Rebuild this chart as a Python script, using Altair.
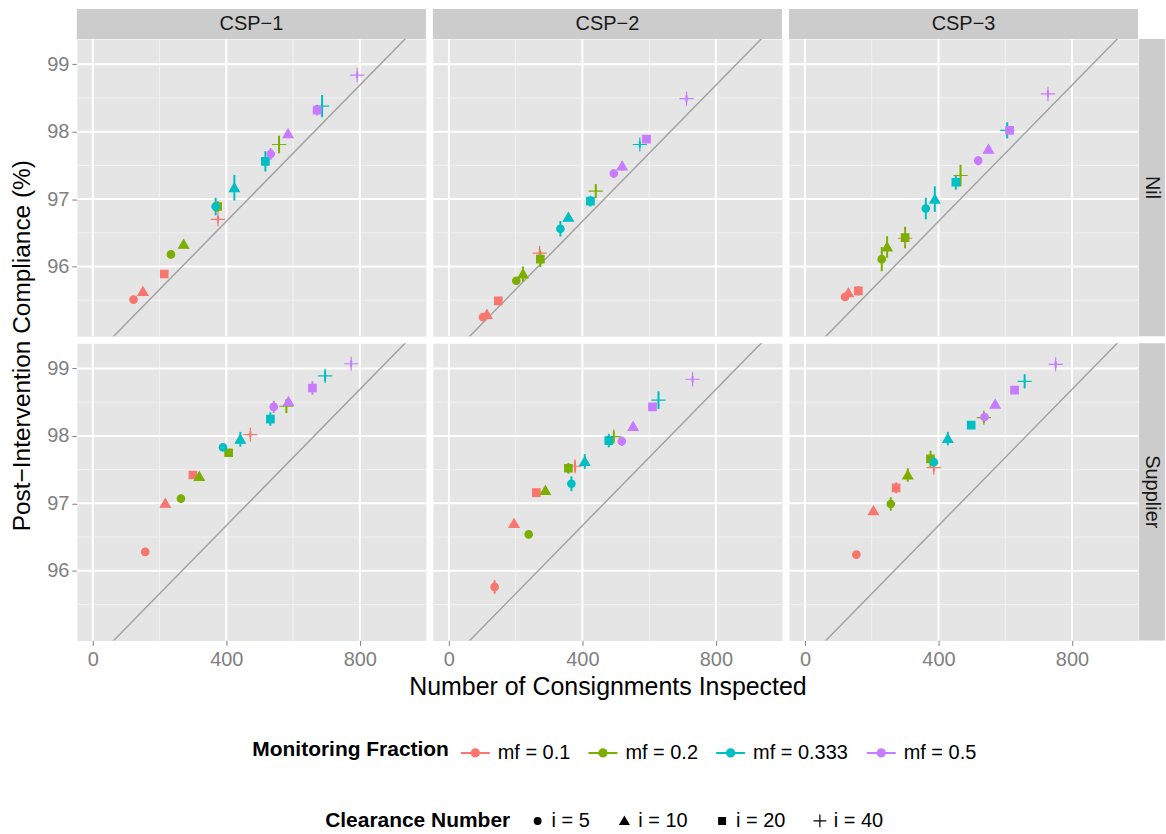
import altair as alt
import pandas as pd

CSP = ["CSP−1", "CSP−2", "CSP−3"]
INTERVENTION = ["Nil", "Supplier"]
MF_LABELS = ["mf = 0.1", "mf = 0.2", "mf = 0.333", "mf = 0.5"]
I_LABELS = ["i = 5", "i = 10", "i = 20", "i = 40"]
MF_COLORS = ["#F8766D", "#7CAE00", "#00BFC4", "#C77CFF"]

# values ordered mf = 0.1 .. 0.5, and within each mf: i = 5, 10, 20, 40
inspected_nil_csp1 = [122, 150, 214, 375, 234, 272, 374, 558, 368, 424, 517, 687, 533, 585, 672, 792]
compliance_nil_csp1 = [95.51, 95.63, 95.89, 96.70, 96.18, 96.33, 96.89, 97.81,
                       96.89, 97.17, 97.56, 98.38, 97.67, 97.97, 98.32, 98.84]
halfwidth_nil_csp1 = [0.05, 0.04, 0.05, 0.05, 0.04, 0.05, 0.08, 0.13,
                      0.13, 0.19, 0.15, 0.165, 0.085, 0.03, 0.08, 0.05]

inspected_nil_csp2 = [102, 114, 148, 272, 202, 222, 274, 440, 334, 358, 424, 572, 494, 519, 592, 712]
compliance_nil_csp2 = [95.25, 95.29, 95.49, 96.20, 95.79, 95.89, 96.11, 97.12,
                       96.56, 96.73, 96.97, 97.81, 97.38, 97.49, 97.89, 98.49]
halfwidth_nil_csp2 = [0.04, 0.04, 0.05, 0.06, 0.05, 0.11, 0.12, 0.10,
                      0.115, 0.05, 0.08, 0.05, 0.06, 0.07, 0.04, 0.05]

inspected_nil_csp3 = [120, 130, 160, 300, 230, 246, 300, 466, 362, 389, 452, 606, 519, 550, 613, 728]
compliance_nil_csp3 = [95.55, 95.61, 95.64, 96.42, 96.11, 96.29, 96.43, 97.35,
                       96.86, 97.00, 97.25, 98.02, 97.57, 97.74, 98.02, 98.56]
halfwidth_nil_csp3 = [0.04, 0.05, 0.07, 0.04, 0.18, 0.16, 0.16, 0.16,
                      0.16, 0.19, 0.11, 0.12, 0.07, 0.04, 0.05, 0.05]

inspected_sup_csp1 = [157, 217, 300, 472, 264, 319, 407, 580, 390, 442, 532, 696, 542, 586, 658, 774]
compliance_sup_csp1 = [96.28, 97.00, 97.42, 98.02, 97.07, 97.40, 97.75, 98.44,
                       97.83, 97.95, 98.25, 98.89, 98.43, 98.51, 98.71, 99.07]
halfwidth_sup_csp1 = [0.05, 0.04, 0.05, 0.05, 0.05, 0.05, 0.05, 0.10,
                      0.05, 0.11, 0.10, 0.08, 0.09, 0.05, 0.10, 0.05]

inspected_sup_csp2 = [137, 195, 262, 378, 239, 289, 358, 494, 367, 407, 479, 628, 518, 552, 610, 730]
compliance_sup_csp2 = [95.76, 96.70, 97.16, 97.55, 96.54, 97.19, 97.52, 97.99,
                       97.29, 97.62, 97.93, 98.53, 97.92, 98.14, 98.43, 98.84]
halfwidth_sup_csp2 = [0.10, 0.04, 0.05, 0.08, 0.04, 0.05, 0.08, 0.08,
                      0.11, 0.11, 0.10, 0.13, 0.07, 0.05, 0.05, 0.05]

inspected_sup_csp3 = [154, 205, 273, 386, 257, 308, 376, 536, 386, 428, 498, 658, 538, 570, 628, 751]
compliance_sup_csp3 = [96.24, 96.89, 97.23, 97.53, 96.99, 97.42, 97.66, 98.27,
                       97.61, 97.96, 98.16, 98.81, 98.28, 98.47, 98.68, 99.06]
halfwidth_sup_csp3 = [0.04, 0.03, 0.08, 0.06, 0.10, 0.10, 0.12, 0.08,
                      0.06, 0.10, 0.04, 0.10, 0.06, 0.04, 0.03, 0.05]

PANEL_DATA = {
    ("Nil", "CSP−1"): (inspected_nil_csp1, compliance_nil_csp1, halfwidth_nil_csp1),
    ("Nil", "CSP−2"): (inspected_nil_csp2, compliance_nil_csp2, halfwidth_nil_csp2),
    ("Nil", "CSP−3"): (inspected_nil_csp3, compliance_nil_csp3, halfwidth_nil_csp3),
    ("Supplier", "CSP−1"): (inspected_sup_csp1, compliance_sup_csp1, halfwidth_sup_csp1),
    ("Supplier", "CSP−2"): (inspected_sup_csp2, compliance_sup_csp2, halfwidth_sup_csp2),
    ("Supplier", "CSP−3"): (inspected_sup_csp3, compliance_sup_csp3, halfwidth_sup_csp3),
}

# reference line drawn in every panel
LINE_INTERCEPT = 94.65
LINE_SLOPE = 0.00505

X_DOMAIN = [-48, 998]
Y_DOMAIN = [94.967, 99.375]
X_MAJOR = [0, 400, 800]
X_MINOR = [200, 600]
Y_MAJOR = [96, 97, 98, 99]
Y_MINOR = [95.5, 96.5, 97.5, 98.5]

X_TITLE = "Number of Consignments Inspected"
Y_TITLE = "Post−Intervention Compliance (%)"

FONT = "Liberation Sans"
W, H = 350, 298
GAP = 7
STRIP = 30

# point glyphs (unit box -1..1 is scaled by the symbol size)
TRIANGLE = "M0,-1.25L1.34,1.05L-1.34,1.05Z"
SQUARE = "M-1,-1H1V1H-1Z"
PLUS = "M-1.9,0H1.9M0,-1.9V1.9"
LINE_DOT = "M-1,0H1M-0.25,0A0.25,0.25,0,1,0,0.25,0A0.25,0.25,0,1,0,-0.25,0Z"

rows = []
for inter in INTERVENTION:
    for csp in CSP:
        xs, ys, hw = PANEL_DATA[(inter, csp)]
        for k in range(16):
            rows.append({
                "intervention": inter, "csp": csp,
                "mf": MF_LABELS[k // 4], "i": I_LABELS[k % 4],
                "inspected": xs[k], "compliance": ys[k],
                "lo": ys[k] - hw[k], "hi": ys[k] + hw[k],
            })
df = pd.DataFrame(rows)

line_df = pd.DataFrame({
    "x": X_DOMAIN,
    "y": [LINE_INTERCEPT + LINE_SLOPE * v for v in X_DOMAIN],
})

x_scale = alt.Scale(domain=X_DOMAIN, nice=False, zero=False)
y_scale = alt.Scale(domain=Y_DOMAIN, nice=False, zero=False)
color_scale = alt.Scale(domain=MF_LABELS, range=MF_COLORS)
shape_scale = alt.Scale(domain=I_LABELS, range=["circle", TRIANGLE, SQUARE, PLUS])

mf_legend = alt.Legend(
    title="Monitoring Fraction", orient="none", legendX=176, legendY=700,
    direction="horizontal", titleOrient="left", titleAnchor="middle",
    titleBaseline="middle", titleFontSize=21, titleFontWeight="bold",
    titleColor="black", titleFont=FONT, titlePadding=10, titleLimit=400,
    labelFontSize=20, labelColor="black", labelFont=FONT, labelOffset=7,
    symbolType=LINE_DOT, symbolSize=841, symbolStrokeWidth=2,
    symbolOpacity=1, columnPadding=14,
)
i_legend = alt.Legend(
    title="Clearance Number", orient="none", legendX=249, legendY=774,
    direction="horizontal", titleOrient="left", titleAnchor="middle",
    titleBaseline="middle", titleFontSize=21, titleFontWeight="bold",
    titleColor="black", titleFont=FONT, titlePadding=17, titleLimit=400,
    labelFontSize=20, labelColor="black", labelFont=FONT, labelOffset=4,
    symbolSize=45, symbolFillColor="black", symbolStrokeColor="black",
    symbolStrokeWidth=1.2, symbolOpacity=1, columnPadding=24,
)


def x_axis(r, c):
    if r == 0:
        return None
    return alt.Axis(
        values=X_MAJOR, grid=False, domain=False, tickColor="#7F7F7F",
        tickSize=5, tickWidth=1, labelFontSize=20, labelColor="#7F7F7F",
        labelFont=FONT, labelPadding=4,
        title=X_TITLE if c == 1 else "",
        titleFontSize=25, titleFontWeight="normal", titleColor="black",
        titleFont=FONT, titlePadding=5,
    )


def y_axis(r, c):
    if c != 0:
        return None
    if r == 0:
        kw = dict(title=Y_TITLE, titleY=307)
    else:
        kw = dict(title="")
    return alt.Axis(
        values=Y_MAJOR, grid=False, domain=False, tickColor="#7F7F7F",
        tickSize=5, tickWidth=1, labelFontSize=20, labelColor="#7F7F7F",
        labelFont=FONT, labelPadding=3,
        titleFontSize=24.5, titleFontWeight="normal", titleColor="black",
        titleFont=FONT, titlePadding=12, **kw,
    )


def panel(r, c):
    inter, csp = INTERVENTION[r], CSP[c]
    sub = df[(df["intervention"] == inter) & (df["csp"] == csp)]
    xa, ya = x_axis(r, c), y_axis(r, c)

    def X(field):
        return alt.X(field, scale=x_scale, axis=xa)

    def Y(field):
        return alt.Y(field, scale=y_scale, axis=ya)

    xminor = alt.Chart(pd.DataFrame({"v": X_MINOR})).mark_rule(
        color="#F2F2F2", strokeWidth=1).encode(x=X("v:Q"))
    yminor = alt.Chart(pd.DataFrame({"v": Y_MINOR})).mark_rule(
        color="#F2F2F2", strokeWidth=1).encode(y=Y("v:Q"))
    xmajor = alt.Chart(pd.DataFrame({"v": X_MAJOR})).mark_rule(
        color="white", strokeWidth=2).encode(x=X("v:Q"))
    ymajor = alt.Chart(pd.DataFrame({"v": Y_MAJOR})).mark_rule(
        color="white", strokeWidth=2).encode(y=Y("v:Q"))

    ref = alt.Chart(line_df).mark_line(
        color="#A3A3A3", strokeWidth=1.5, clip=True).encode(
        x=X("x:Q"), y=Y("y:Q"))

    base = alt.Chart(sub)
    bars = base.mark_rule(strokeWidth=2).encode(
        x=X("inspected:Q"), y=Y("lo:Q"), y2="hi:Q",
        stroke=alt.Stroke("mf:N", scale=color_scale, legend=mf_legend),
    )
    pts = base.mark_point(filled=True, size=56, strokeWidth=1.2, opacity=1).encode(
        x=X("inspected:Q"), y=Y("compliance:Q"),
        fill=alt.Fill("mf:N", scale=color_scale, legend=mf_legend),
        stroke=alt.Stroke("mf:N", scale=color_scale, legend=mf_legend),
        shape=alt.Shape("i:N", scale=shape_scale, legend=i_legend),
    )

    layers = [xminor, yminor, xmajor, ymajor, ref, bars, pts]

    if r == 0:
        lab = alt.Chart(pd.DataFrame({"label": [csp]}))
        layers.append(lab.mark_rect(color="#CCCCCC").encode(
            x=alt.value(0), x2=alt.value(W), y=alt.value(-STRIP), y2=alt.value(0)))
        layers.append(lab.mark_text(fontSize=20, font=FONT, color="#1A1A1A").encode(
            x=alt.value(W / 2), y=alt.value(-STRIP / 2), text="label:N"))
    if c == len(CSP) - 1:
        lab = alt.Chart(pd.DataFrame({"label": [inter]}))
        layers.append(lab.mark_rect(color="#CCCCCC").encode(
            x=alt.value(W + 1), x2=alt.value(W + 27), y=alt.value(0), y2=alt.value(H)))
        layers.append(lab.mark_text(fontSize=20, font=FONT, color="#1A1A1A", angle=90).encode(
            x=alt.value(W + 14), y=alt.value(H / 2), text="label:N"))

    return alt.layer(*layers).properties(width=W, height=H)


panels = [panel(r, c) for r in range(len(INTERVENTION)) for c in range(len(CSP))]

chart = alt.concat(
    *panels, columns=3, spacing=GAP, bounds="flush"
).properties(
    padding={"left": 9, "top": 7, "right": 0, "bottom": 0}
).configure(
    font=FONT
).configure_view(
    fill="#E5E5E5", stroke="transparent"
)

chart.save("out.html", embed_options={"renderer": "svg", "actions": False})
